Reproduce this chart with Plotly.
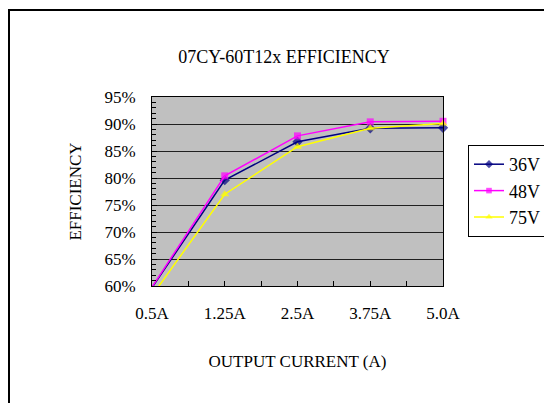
import plotly.graph_objects as go

categories = ["0.5A", "1.25A", "2.5A", "3.75A", "5.0A"]
eff_36v = [59.7, 79.6, 86.7, 89.2, 89.3]
eff_48v = [59.8, 80.4, 87.8, 90.4, 90.5]
eff_75v = [58.2, 77.0, 85.8, 89.2, 90.1]
series_names = ["36V", "48V", "75V"]
y_tick_vals = [60, 65, 70, 75, 80, 85, 90, 95]
y_tick_text = [f"{v}%" for v in y_tick_vals]

YMIN, YMAX = 60, 95
FONT = "Liberation Serif, Times New Roman, serif"

# page is offset by the 8px default body margin
OFF = 8
W, H = 552 - OFF, 403 - OFF
PL, PR, PT, PB = 152, 443, 97, 286   # plot area in page pixels

xs = list(range(len(categories)))
styles = [
    ("#000080", "diamond", 8),
    ("#FF00FF", "square", 7),
    ("#FFFF00", "triangle-up", 8),
]

fig = go.Figure()
for name, vals, (col, sym, sz) in zip(series_names, [eff_36v, eff_48v, eff_75v], styles):
    sizes = [sz if YMIN <= v <= YMAX else 0 for v in vals]
    fig.add_trace(go.Scatter(
        x=xs, y=vals, name=name, mode="lines+markers",
        line=dict(color=col, width=1.5),
        marker=dict(color=col, symbol=sym, size=sizes, line=dict(width=0)),
        cliponaxis=False,
    ))

pw, ph = PR - PL, PB - PT
fig.update_layout(
    width=W, height=H,
    margin=dict(l=PL - OFF, r=W - (PR - OFF), t=PT - OFF, b=H - (PB - OFF), autoexpand=False),
    paper_bgcolor="white", plot_bgcolor="#C0C0C0",
    font=dict(family=FONT, size=17, color="black"),
    title=dict(text="07CY-60T12x EFFICIENCY", x=(284 - OFF) / W, xref="container", xanchor="center",
               y=1 - (57 - OFF) / H, yref="container", yanchor="middle",
               font=dict(family=FONT, size=18, color="black")),
    showlegend=True,
    legend=dict(x=(468 - PL) / pw, y=(PB - 145) / ph, xanchor="left", yanchor="top",
                bordercolor="black", borderwidth=1, bgcolor="white",
                font=dict(family=FONT, size=18, color="black"),
                itemwidth=30, tracegroupgap=0),
)

fig.update_xaxes(
    range=[0, len(categories) - 1],
    tickvals=xs, ticktext=categories,
    showgrid=False, zeroline=False, automargin=False,
    showline=True, linecolor="black", linewidth=1, mirror=True,
    ticks="inside", ticklen=5, tickcolor="black",
    ticklabelstandoff=12,
    minor=dict(dtick=0.5, ticks="inside", ticklen=5, tickcolor="black", showgrid=False),
    title=dict(text="OUTPUT CURRENT (A)", standoff=32, font=dict(family=FONT, size=17)),
)
fig.update_yaxes(
    range=[YMIN, YMAX],
    tickvals=y_tick_vals, ticktext=y_tick_text,
    showgrid=True, gridcolor="#202020", gridwidth=1,
    zeroline=False, automargin=False,
    showline=True, linecolor="black", linewidth=1, mirror=True,
    ticks="inside", ticklen=5, tickcolor="black",
    ticklabelstandoff=12,
    minor=dict(dtick=1, ticks="inside", ticklen=4, tickcolor="black", showgrid=False),
    title=dict(text="EFFICIENCY", standoff=18, font=dict(family=FONT, size=17)),
)

# outer chart-area border (cropped at right and bottom)
fig.add_shape(type="rect", xref="paper", yref="paper",
              x0=(9 - PL) / pw, x1=(620 - PL) / pw,
              y0=(PB - 480) / ph, y1=(PB - 10) / ph,
              line=dict(color="black", width=2), fillcolor="rgba(0,0,0,0)", layer="below")

fig.write_html("out.html")
